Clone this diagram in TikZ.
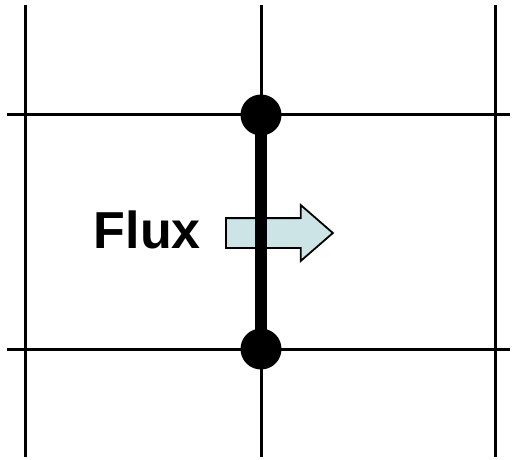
\documentclass[tikz,border=0pt]{standalone}
\usepackage{fontspec}
\setsansfont{Liberation Sans}
\usepackage{tikz}
\usetikzlibrary{arrows.meta,calc,positioning,shapes.arrows}
\definecolor{fluxfill}{RGB}{204,228,230}

\begin{document}
\begin{tikzpicture}[>=Stealth,line cap=butt,line join=miter,
 x=1pt,y=1pt,
 gridline/.style={black,line width=3pt},
 nodedot/.style={circle,fill=black,inner sep=0pt,minimum size=41pt},
 fluxarrow/.style={single arrow,draw=black,line width=1.8pt,fill=fluxfill,
  minimum height=107pt,inner xsep=0pt,inner ysep=14pt,
  single arrow head extend=13pt,single arrow tip angle=82,
  single arrow head indent=0pt},
 fluxlabel/.style={font=\sffamily\bfseries\fontsize{52}{60}\selectfont,inner sep=0pt}]
 \useasboundingbox (0,0) rectangle (512,459);
 % grid
 \foreach \gx in {25,261,495}
  \draw[gridline] (\gx,2)--(\gx,454);
 \foreach \gy in {110,344}
  \draw[gridline] (7,\gy)--(510,\gy);
 % flux arrow and label
 \node[fluxarrow,anchor=tail] (flux) at (225,226) {};
 \node[fluxlabel,anchor=base east] (fluxtext) at (201,211) {Flux};
 % face with its two vertices
 \node[nodedot] (top) at (261,344) {};
 \node[nodedot] (bot) at (261,110) {};
 \draw[line width=12.5pt] (top.center)--(bot.center);
\end{tikzpicture}
\end{document}
